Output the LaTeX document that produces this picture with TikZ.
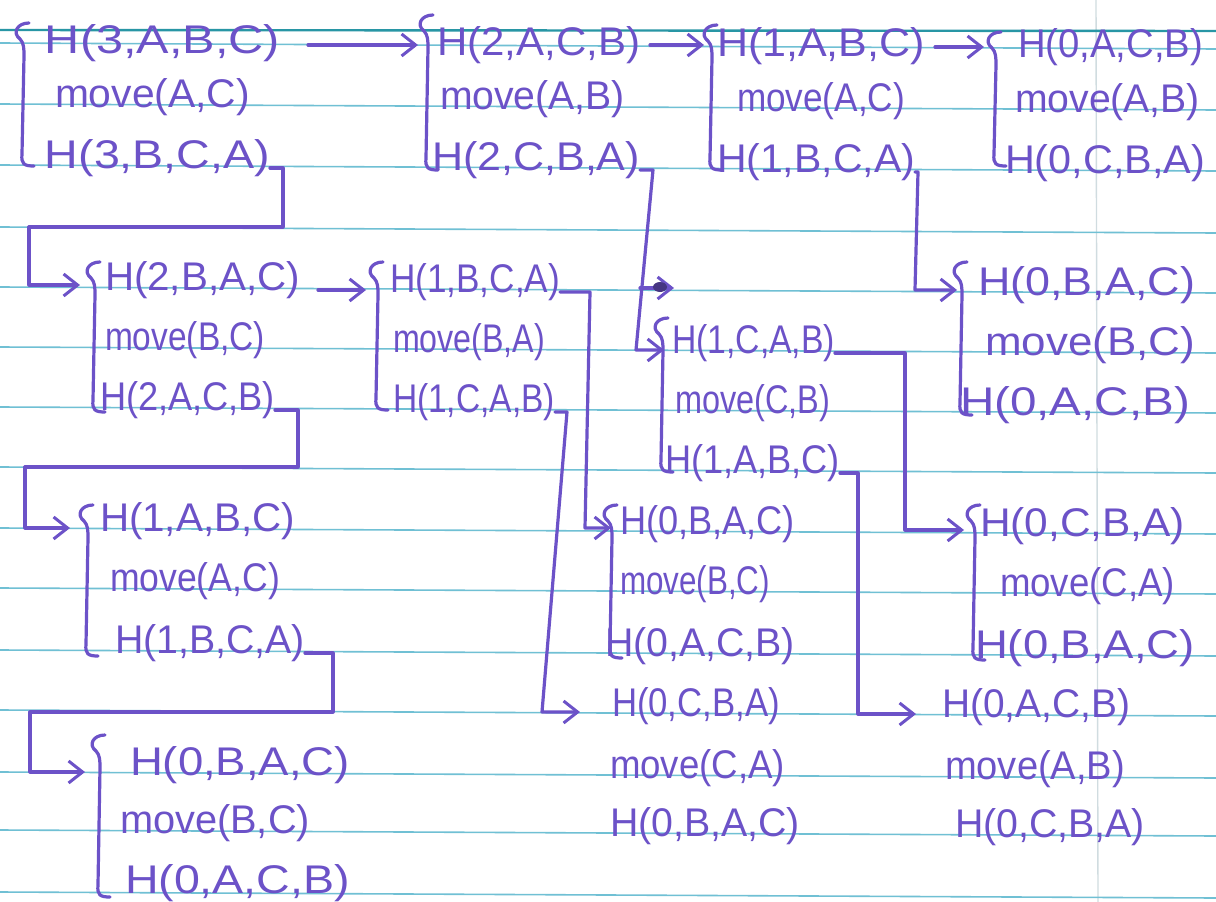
\documentclass[tikz,border=0pt]{standalone}
\usepackage{fontspec}
\setmainfont{Liberation Sans}
\usepackage{graphicx}
\usetikzlibrary{arrows.meta}
\definecolor{ink}{RGB}{108,82,200}
\definecolor{rulec}{RGB}{112,192,212}
\definecolor{rulet}{RGB}{40,150,165}
\definecolor{marg}{RGB}{208,220,224}
\newcommand\tw[2]{\resizebox{#1pt}{\height}{#2}}
\newcommand\hbr[3]{%
 \draw[brc] (#1+5,#2) .. controls (#1-7,#2) and (#1-12,#2+10) .. (#1-4,#2+16)
   .. controls (#1,#2+20) and (#1,#2+26) .. (#1,#2+33) -- (#1-2,#3-12)
   .. controls (#1-3,#3-2) and (#1,#3) .. (#1+10,#3);}
\tikzset{
 txt/.style={anchor=base west, inner sep=0pt, outer sep=0pt, text=ink, font=\fontsize{40}{44}\selectfont},
 brc/.style={draw=ink, line width=3.2pt, line cap=round, line join=round},
 arr/.style={draw=ink, line width=3.2pt, line cap=round, line join=round, -{Straight Barb[length=14pt,width=22pt,line width=3pt]}},
 rulel/.style={draw=rulec, line width=1.6pt},
}
\begin{document}
\begin{tikzpicture}[x=1pt,y=-1pt]
\fill[white] (0,0) rectangle (1216,902);
\useasboundingbox (0,0) rectangle (1216,902);
% paper rules
\draw[draw=marg, line width=1.4pt] (1096,0) -- (1098,902);
\draw[draw=rulet, line width=2.4pt] (0,30) -- (1216,31);
\foreach \L in {43,104,165,227,287,347,407,467,528,588,650,710,772,830,892}
  \draw[rulel] (0,\L) -- (1216,\L+6);

% group 1
\node[txt] (a1) at (45,53) {\tw{235}{H(3,A,B,C)}};
\node[txt] (a2) at (55,107) {\tw{195}{move(A,C)}};
\node[txt] (a3) at (45,168) {\tw{225}{H(3,B,C,A)}};
\hbr{24}{23}{166}
% group 2
\node[txt] (b1) at (437,55) {\tw{203}{H(2,A,C,B)}};
\node[txt] (b2) at (440,109) {\tw{185}{move(A,B)}};
\node[txt] (b3) at (432,170) {\tw{208}{H(2,C,B,A)}};
\hbr{428}{15}{170}
% group 3
\node[txt] (c1) at (717,56) {\tw{208}{H(1,A,B,C)}};
\node[txt] (c2) at (737,111) {\tw{168}{move(A,C)}};
\node[txt] (c3) at (717,172) {\tw{198}{H(1,B,C,A)}};
\hbr{712}{25}{170}
% group 4
\node[txt] (d1) at (1018,57) {\tw{185}{H(0,A,C,B)}};
\node[txt] (d2) at (1015,112) {\tw{185}{move(A,B)}};
\node[txt] (d3) at (1005,173) {\tw{200}{H(0,C,B,A)}};
\hbr{996}{32}{166}
% group 5
\node[txt] (e1) at (105,290) {\tw{195}{H(2,B,A,C)}};
\node[txt] (e2) at (105,350) {\tw{160}{move(B,C)}};
\node[txt] (e3) at (100,410) {\tw{175}{H(2,A,C,B)}};
\hbr{95}{262}{412}
% group 6
\node[txt] (f1) at (390,292) {\tw{170}{H(1,B,C,A)}};
\node[txt] (f2) at (393,352) {\tw{152}{move(B,A)}};
\node[txt] (f3) at (393,412) {\tw{162}{H(1,C,A,B)}};
\hbr{378}{262}{410}
% group 7
\node[txt] (g1) at (672,353) {\tw{163}{H(1,C,A,B)}};
\node[txt] (g2) at (675,413) {\tw{155}{move(C,B)}};
\node[txt] (g3) at (665,473) {\tw{175}{H(1,A,B,C)}};
\hbr{663}{318}{472}
% group 8
\node[txt] (h1) at (978,295) {\tw{217}{H(0,B,A,C)}};
\node[txt] (h2) at (985,355) {\tw{210}{move(B,C)}};
\node[txt] (h3) at (960,415) {\tw{230}{H(0,A,C,B)}};
\hbr{962}{262}{415}
% group 9
\node[txt] (i1) at (100,531) {\tw{195}{H(1,A,B,C)}};
\node[txt] (i2) at (110,591) {\tw{170}{move(A,C)}};
\node[txt] (i3) at (115,653) {\tw{190}{H(1,B,C,A)}};
\hbr{88}{505}{656}
% group 10
\node[txt] (j1) at (620,534) {\tw{175}{H(0,B,A,C)}};
\node[txt] (j2) at (620,594) {\tw{150}{move(B,C)}};
\node[txt] (j3) at (605,656) {\tw{190}{H(0,A,C,B)}};
\hbr{612}{505}{658}
% group 11
\node[txt] (k1) at (980,536) {\tw{205}{H(0,C,B,A)}};
\node[txt] (k2) at (1000,596) {\tw{175}{move(C,A)}};
\node[txt] (k3) at (975,658) {\tw{220}{H(0,B,A,C)}};
\hbr{975}{505}{660}
% group 12
\node[txt] (l1) at (130,775) {\tw{220}{H(0,B,A,C)}};
\node[txt] (l2) at (120,833) {\tw{190}{move(B,C)}};
\node[txt] (l3) at (125,893) {\tw{225}{H(0,A,C,B)}};
\hbr{100}{735}{897}
% group 13
\node[txt] (m1) at (612,716) {\tw{168}{H(0,C,B,A)}};
\node[txt] (m2) at (610,778) {\tw{175}{move(C,A)}};
\node[txt] (m3) at (610,836) {\tw{190}{H(0,B,A,C)}};
% group 14
\node[txt] (n1) at (942,717) {\tw{188}{H(0,A,C,B)}};
\node[txt] (n2) at (945,779) {\tw{180}{move(A,B)}};
\node[txt] (n3) at (955,837) {\tw{190}{H(0,C,B,A)}};

% arrow targets (brace tips)
\coordinate (B2) at (418,45);
\coordinate (B3) at (704,45);
\coordinate (B4) at (984,47);
\coordinate (B5) at (80,285);
\coordinate (B6) at (366,290);
\coordinate (B7) at (664,350);
\coordinate (B8) at (957,290);
\coordinate (B9) at (70,528);
\coordinate (B10) at (611,528);
\coordinate (B11) at (964,530);
\coordinate (B12) at (85,772);
\coordinate (T13) at (580,712);
\coordinate (T14) at (916,714);
\coordinate (s1) at (640,288);
\coordinate (s2) at (674,288);

% straight arrows
\draw[arr, shorten <=28pt] (a1.east |- B2) -- (B2);
\draw[arr, shorten <=10pt] (b1.east |- B3) -- (B3);
\draw[arr, shorten <=10pt] (c1.east |- B4) -- (B4);
\draw[arr, shorten <=18pt] (e1.east |- B6) -- (B6);

% routed connectors
\draw[arr] (a3.base east) -| (283,227) -| (29,285) -- (B5);
\draw[arr] (b3.base east) -- (653,170) -- (636,350) -- (B7);
\draw[arr] (s1) -- (s2);
\fill[ink!65!black] (660,287) ellipse [x radius=7pt, y radius=5pt];
\draw[arr] (c3.base east) -- (918,172) -- (915,290) -- (B8);
\draw[arr] (e3.base east) -| (298,467) -| (25,528) -- (B9);
\draw[arr] (f1.base east) -- (590,292) -- (585,528) -- (B10);
\draw[arr] (f3.base east) -- (567,412) -- (542,712) -- (T13);
\draw[arr] (g1.base east) -- (905,353) -- (905,530) -- (B11);
\draw[arr] (g3.base east) -- (858,473) -- (858,714) -- (T14);
\draw[arr] (i3.base east) -| (333,712) -| (30,772) -- (B12);
\end{tikzpicture}
\end{document}
